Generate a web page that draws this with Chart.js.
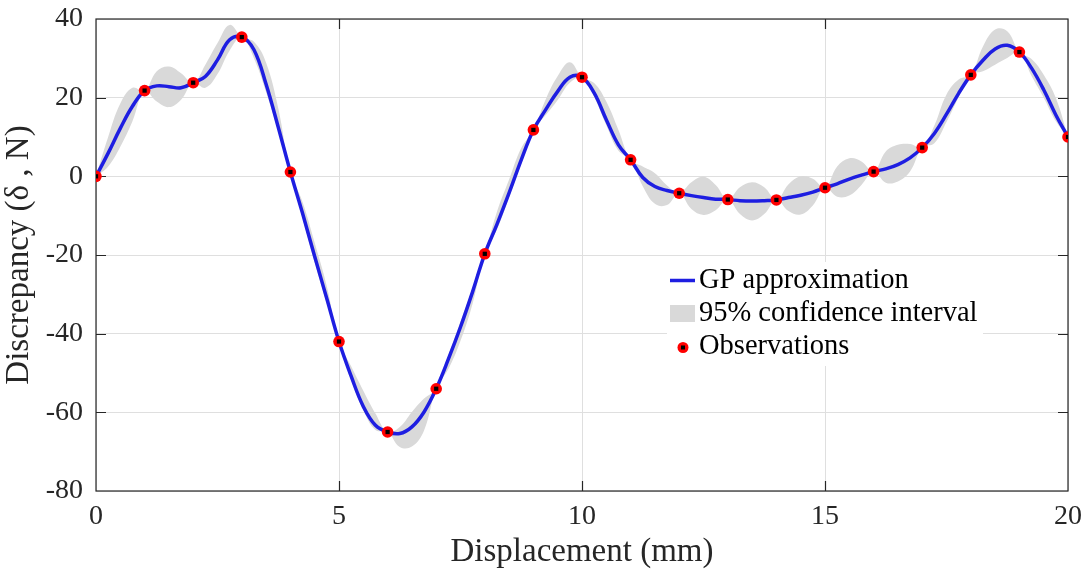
<!DOCTYPE html>
<html>
<head>
<meta charset="utf-8">
<script src="https://cdn.jsdelivr.net/npm/chart.js@4.4.0/dist/chart.umd.min.js"></script>
<style>
    html, body { margin: 0; padding: 0; background: #fff; }
    #wrap { width: 1082px; height: 569px; position: relative; }
</style>
</head>
<body>
<div id="wrap"><canvas id="gpChart"></canvas></div>
<script>
// Observations (x in mm, discrepancy in N)
const obsX = [0, 1, 2, 3, 4, 5, 6, 7, 8, 9, 10, 11, 12, 13, 14, 15, 16, 17, 18, 19, 20];
const obsY = [0, 21.8, 23.8, 35.4, 1.1, -42.0, -65.0, -54.0, -19.7, 11.8, 25.2, 4.2, -4.3, -5.9, -6.0, -2.9, 1.2, 7.3, 25.8, 31.6, 10.0];

// GP mean read between observations, at i+0.25, i+0.5, i+0.75
const meanMid = [
    [5.9, 12.2, 17.8], [23.0, 22.8, 22.5], [25.4, 29.6, 34.7], [32.2, 23.4, 12.5],
    [-9.4, -20.4, -31.1], [-50.8, -58.5, -63.3], [-65.4, -63.7, -59.9], [-46.5, -38.3, -29.3],
    [-12.2, -4.2, 4.2], [16.9, 21.6, 25.2], [21.2, 14.4, 8.0], [-0.3, -2.6, -3.6],
    [-4.9, -5.4, -5.8], [-6.2, -6.3, -6.2], [-5.4, -4.8, -4.0], [-1.9, -0.7, 0.3],
    [1.9, 3.0, 4.7], [10.9, 15.8, 21.1], [29.5, 32.4, 33.3], [27.5, 22.0, 15.6]
];

// 95% band, upper and lower edges at the same positions
const upperMid = [
    [10.0, 18.5, 22.5], [26.7, 27.9, 26.2], [28.4, 33.9, 38.5], [34.2, 28.9, 17.3],
    [-6.5, -16.9, -28.0], [-48.3, -54.5, -60.3], [-63.7, -59.9, -56.5], [-45.5, -37.0, -28.3],
    [-9.0, -0.8, 7.2], [19.5, 25.5, 29.0], [23.7, 19.0, 11.8], [2.5, 0.8, -2.3],
    [-1.5, -0.1, -2.2], [-2.8, -1.5, -2.8], [-2.0, 0.0, -0.6], [2.5, 4.6, 3.8],
    [6.3, 8.0, 8.2], [12.9, 20.8, 24.6], [33.0, 37.3, 36.9], [29.8, 25.8, 19.9]
];
const lowerMid = [
    [2.5, 7.5, 14.0], [19.0, 17.6, 19.5], [22.5, 26.0, 32.0], [30.0, 21.4, 11.5],
    [-10.5, -21.9, -32.3], [-51.8, -59.5, -64.5], [-68.8, -68.7, -64.6], [-49.0, -41.8, -32.3],
    [-13.5, -5.3, 3.2], [15.5, 19.4, 23.8], [20.2, 13.0, 6.5], [-2.5, -7.0, -7.3],
    [-8.3, -9.8, -8.6], [-9.6, -11.2, -9.6], [-8.8, -9.7, -7.4], [-5.2, -4.9, -2.2],
    [-1.6, -1.3, 1.2], [8.4, 13.8, 20.1], [26.7, 28.4, 30.1], [25.5, 20.0, 14.0]
];

const xTicks = [0, 5, 10, 15, 20];
const yTicks = [-80, -60, -40, -20, 0, 20, 40];

const serif = "'Liberation Serif', 'DejaVu Serif', serif";
const axisColor = '#262626';

// observations at integers, readings in between
function buildSeries(mid) {
    const pts = [];
    for (let i = 0; i < obsX.length - 1; i++) {
        pts.push({ x: obsX[i], y: obsY[i] });
        mid[i].forEach((v, k) => pts.push({ x: obsX[i] + (k + 1) / 4, y: v }));
    }
    pts.push({ x: obsX[obsX.length - 1], y: obsY[obsY.length - 1] });
    return pts;
}

const obsPts = obsX.map((x, i) => ({ x: x, y: obsY[i] }));

// box around the axes with inward ticks (MATLAB style)
const boxPlugin = {
    id: 'boxTicks',
    beforeDatasetsDraw(chart) {
        const { ctx, chartArea: a, scales } = chart;
        ctx.save();
        ctx.strokeStyle = axisColor;
        ctx.lineWidth = 1.2;
        ctx.strokeRect(a.left, a.top, a.right - a.left, a.bottom - a.top);
        ctx.beginPath();
        xTicks.slice(1, -1).forEach(v => {
            const px = Math.round(scales.x.getPixelForValue(v)) + 0.5;
            ctx.moveTo(px, a.bottom); ctx.lineTo(px, a.bottom - 10);
            ctx.moveTo(px, a.top); ctx.lineTo(px, a.top + 10);
        });
        yTicks.slice(1, -1).forEach(v => {
            const py = Math.round(scales.y.getPixelForValue(v)) + 0.5;
            ctx.moveTo(a.left, py); ctx.lineTo(a.left + 10, py);
            ctx.moveTo(a.right, py); ctx.lineTo(a.right - 10, py);
        });
        ctx.stroke();
        ctx.restore();
    }
};

// legend inside the plot, lower right
const legendPlugin = {
    id: 'insideLegend',
    afterDraw(chart) {
        const ctx = chart.ctx;
        ctx.save();
        ctx.fillStyle = '#fff';
        ctx.fillRect(667, 262, 316, 104);

        ctx.strokeStyle = 'rgb(30,30,225)';
        ctx.lineWidth = 3.5;
        ctx.beginPath(); ctx.moveTo(670, 280.5); ctx.lineTo(695, 280.5); ctx.stroke();

        ctx.fillStyle = '#d9d9d9';
        ctx.fillRect(670, 305, 25, 17);

        ctx.fillStyle = 'red';
        ctx.beginPath(); ctx.arc(683, 347.5, 5.5, 0, Math.PI * 2); ctx.fill();
        ctx.fillStyle = '#000';
        ctx.fillRect(681, 345.5, 4, 4);

        ctx.fillStyle = '#000';
        ctx.font = '28.5px ' + serif;
        ctx.textBaseline = 'alphabetic';
        ctx.fillText('GP approximation', 699, 288);
        ctx.fillText('95% confidence interval', 699, 321);
        ctx.fillText('Observations', 699, 354);
        ctx.restore();
    }
};

document.addEventListener('DOMContentLoaded', function() {
    const ctx = document.getElementById('gpChart');
    new Chart(ctx, {
        type: 'line',
        data: {
            datasets: [{
                label: 'Observations',
                data: obsPts,
                showLine: false,
                pointStyle: 'rect',
                pointRadius: 3,
                pointBackgroundColor: '#000',
                pointBorderWidth: 0,
                order: 0
            }, {
                label: 'Observations',
                data: obsPts,
                showLine: false,
                pointStyle: 'circle',
                pointRadius: 5.8,
                pointBackgroundColor: 'red',
                pointBorderWidth: 0,
                order: 1
            }, {
                label: 'GP approximation',
                data: buildSeries(meanMid),
                borderColor: 'rgb(30,30,225)',
                borderWidth: 3.5,
                pointRadius: 0,
                tension: 0.4,
                fill: false,
                order: 2
            }, {
                label: '95% confidence interval',
                data: buildSeries(upperMid),
                borderWidth: 0,
                borderColor: 'rgba(0,0,0,0)',
                backgroundColor: '#d9d9d9',
                pointRadius: 0,
                tension: 0.4,
                fill: '+1',
                order: 3
            }, {
                label: 'lower',
                data: buildSeries(lowerMid),
                borderWidth: 0,
                borderColor: 'rgba(0,0,0,0)',
                pointRadius: 0,
                tension: 0.4,
                fill: false,
                order: 4
            }]
        },
        options: {
            responsive: true,
            maintainAspectRatio: false,
            animation: false,
            layout: { padding: { left: 0, top: 19, right: 14, bottom: 0 } },
            plugins: {
                legend: { display: false },
                tooltip: { enabled: false }
            },
            scales: {
                x: {
                    type: 'linear',
                    min: 0,
                    max: 20,
                    afterBuildTicks: s => { s.ticks = xTicks.map(v => ({ value: v })); },
                    afterFit: s => { s.height = 78; s.paddingLeft = 0; s.paddingRight = 0; },
                    grid: { color: '#dfdfdf', drawTicks: false },
                    border: { display: false },
                    ticks: {
                        padding: 12,
                        color: axisColor,
                        font: { family: serif, size: 28, lineHeight: 1 },
                        callback: v => String(v)
                    },
                    title: {
                        display: true,
                        text: 'Displacement (mm)',
                        color: axisColor,
                        font: { family: serif, size: 33, lineHeight: 1 },
                        padding: { top: 0, bottom: 0.5 }
                    }
                },
                y: {
                    min: -80,
                    max: 40,
                    afterBuildTicks: s => { s.ticks = yTicks.map(v => ({ value: v })); },
                    afterFit: s => { s.width = 96; s.paddingTop = 0; s.paddingBottom = 0; },
                    grid: { color: '#dfdfdf', drawTicks: false },
                    border: { display: false },
                    ticks: {
                        padding: 13,
                        color: axisColor,
                        font: { family: serif, size: 28, lineHeight: 1 },
                        callback: v => String(v)
                    },
                    title: {
                        display: true,
                        text: 'Discrepancy (δ , N)',
                        color: axisColor,
                        font: { family: serif, size: 33, lineHeight: 1 },
                        padding: { top: 2.5, bottom: 0 }
                    }
                }
            }
        },
        plugins: [boxPlugin, legendPlugin]
    });
});
</script>
</body>
</html>
